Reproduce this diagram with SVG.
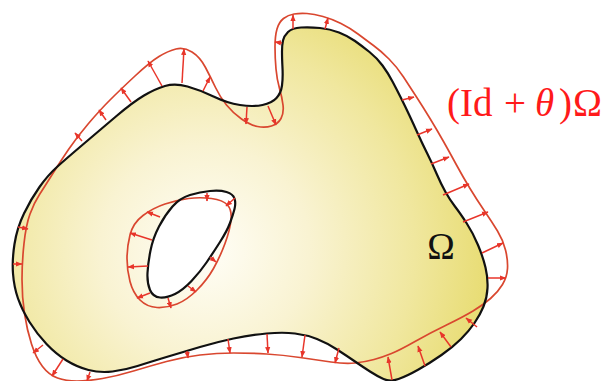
<svg xmlns="http://www.w3.org/2000/svg" width="608" height="381" viewBox="0 0 608 381">
<defs>
<radialGradient id="fillGrad" gradientUnits="userSpaceOnUse" cx="205" cy="250" r="300">
<stop offset="0" stop-color="#fffef8"/>
<stop offset="0.35" stop-color="#f9f3d2"/>
<stop offset="0.7" stop-color="#f0e79e"/>
<stop offset="1" stop-color="#e6da6a"/>
</radialGradient>
<marker id="ah" markerUnits="userSpaceOnUse" markerWidth="7" markerHeight="6" refX="6" refY="3" orient="auto">
<path d="M0,0.4 L6.5,3 L0,5.6 z" fill="#e8352a"/>
</marker>
</defs>
<style>
.black{fill:none;stroke:#111;stroke-width:2.2;stroke-linejoin:round}
.red{fill:none;stroke:#d9472f;stroke-width:1.7;stroke-linejoin:round}
.arr{stroke:#e8352a;stroke-width:1.5;marker-end:url(#ah)}
.lbl{font-family:"Liberation Serif","DejaVu Serif",serif}
</style>
<rect width="608" height="381" fill="#ffffff"/>
<g id="omega-fill">
<path fill="url(#fillGrad)" fill-rule="evenodd" d="M283,40.5 Q284,36 288,32 Q292,28 301,27.5 Q310,27 320,28 Q330,29 339,32.5 Q348,36 355,41 Q362,46 369.5,52 Q377,58 382.5,65.5 Q388,73 392.5,81.5 Q397,90 401,98 Q405,106 409,114.5 Q413,123 417.5,133 Q422,143 427,153 Q432,163 436.5,173.5 Q441,184 445.5,192 Q450,200 455,206.5 Q460,213 466.5,223 Q473,233 478,245 Q483,257 485.5,267.5 Q488,278 487.5,288 Q487,298 483.5,306.5 Q480,315 474.5,323 Q469,331 461,339 Q453,347 441.5,355 Q430,363 418.5,369.5 Q407,376 398.5,379 Q390,382 383.5,379 Q377,376 370,371.5 Q363,367 355,361.5 Q347,356 337,349.5 Q327,343 317,339 Q307,335 295,333.5 Q283,332 266.5,333.5 Q250,335 233.5,338.5 Q217,342 200,347 Q183,352 166.5,357 Q150,362 137.5,366 Q125,370 112.5,371.5 Q100,373 88.5,370 Q77,367 66.5,360.5 Q56,354 46.5,344 Q37,334 29.5,322 Q22,310 18,298.5 Q14,287 13,273.5 Q12,260 14.5,244 Q17,228 24,213.5 Q31,199 39.5,187 Q48,175 57.5,166.5 Q67,158 83.5,144 Q100,130 116.5,116 Q133,102 144,95.5 Q155,89 165,86 Q175,83 187.5,86.5 Q200,90 213.5,96.5 Q227,103 240,105 Q253,107 262.5,105 Q272,103 276.5,98 Q281,93 282,85.5 Q283,78 282.5,68 Q282,58 282,51.5 Q282,45 283,40.5 Z M172.5,206.5 Q180,198 190,195 Q200,192 210,191 Q220,190 226.5,192 Q233,194 234.5,198.5 Q236,203 234.5,209 Q233,215 230,223 Q227,231 220,242 Q213,253 206.5,262.5 Q200,272 191.5,281 Q183,290 175,294 Q167,298 160,297.5 Q153,297 150,290 Q147,283 147.5,273 Q148,263 150.5,250.5 Q153,238 159,226.5 Q165,215 172.5,206.5 Z"/>
</g>
<g id="deformed">
<path class="red" d="M277,29 Q279,22 283.5,18.5 Q288,15 294,14 Q300,13 307,13.5 Q314,14 323,16.5 Q332,19 341,23.5 Q350,28 358,34 Q366,40 373.5,45.5 Q381,51 389,59 Q397,67 403.5,77 Q410,87 416.5,97 Q423,107 430,118.5 Q437,130 443.5,141.5 Q450,153 456.5,165 Q463,177 470,188.5 Q477,200 484.5,211 Q492,222 497.5,231 Q503,240 505.5,250 Q508,260 507.5,268.5 Q507,277 502.5,284.5 Q498,292 490.5,298.5 Q483,305 473,311 Q463,317 446.5,325 Q430,333 415,341.5 Q400,350 391.5,353.5 Q383,357 374,359.5 Q365,362 355,363 Q345,364 331,362 Q317,360 300,357.5 Q283,355 266.5,354 Q250,353 233.5,353 Q217,353 200,355 Q183,357 166.5,361.5 Q150,366 133.5,371 Q117,376 102.5,378.5 Q88,381 77,381 Q66,381 57.5,378 Q49,375 42.5,366.5 Q36,358 31.5,344 Q27,330 24.5,313.5 Q22,297 22,279.5 Q22,262 24,243.5 Q26,225 30,214 Q34,203 39.5,194.5 Q45,186 52.5,174 Q60,162 68.5,149.5 Q77,137 88.5,123.5 Q100,110 110,100 Q120,90 135,76 Q150,62 159,56.5 Q168,51 176,49 Q184,47 192,52 Q200,57 205.5,67.5 Q211,78 215.5,87.5 Q220,97 226.5,105 Q233,113 241.5,119 Q250,125 257.5,126.5 Q265,128 271.5,126 Q278,124 281,118.5 Q284,113 283,105 Q282,97 279.5,88.5 Q277,80 276,69 Q275,58 275,47 Q275,36 277,29 Z"/>
<path class="red" d="M143,215.5 Q133,223 130,235 Q127,247 127,258.5 Q127,270 130,281.5 Q133,293 140,300 Q147,307 157,307.5 Q167,308 177,304 Q187,300 197,290 Q207,280 213.5,268.5 Q220,257 225,243.5 Q230,230 231,220 Q232,210 227.5,205 Q223,200 211.5,198.5 Q200,197 188.5,198.5 Q177,200 165,204 Q153,208 143,215.5 Z"/>
</g>
<g id="omega-boundary">
<path class="black" d="M283,40.5 Q284,36 288,32 Q292,28 301,27.5 Q310,27 320,28 Q330,29 339,32.5 Q348,36 355,41 Q362,46 369.5,52 Q377,58 382.5,65.5 Q388,73 392.5,81.5 Q397,90 401,98 Q405,106 409,114.5 Q413,123 417.5,133 Q422,143 427,153 Q432,163 436.5,173.5 Q441,184 445.5,192 Q450,200 455,206.5 Q460,213 466.5,223 Q473,233 478,245 Q483,257 485.5,267.5 Q488,278 487.5,288 Q487,298 483.5,306.5 Q480,315 474.5,323 Q469,331 461,339 Q453,347 441.5,355 Q430,363 418.5,369.5 Q407,376 398.5,379 Q390,382 383.5,379 Q377,376 370,371.5 Q363,367 355,361.5 Q347,356 337,349.5 Q327,343 317,339 Q307,335 295,333.5 Q283,332 266.5,333.5 Q250,335 233.5,338.5 Q217,342 200,347 Q183,352 166.5,357 Q150,362 137.5,366 Q125,370 112.5,371.5 Q100,373 88.5,370 Q77,367 66.5,360.5 Q56,354 46.5,344 Q37,334 29.5,322 Q22,310 18,298.5 Q14,287 13,273.5 Q12,260 14.5,244 Q17,228 24,213.5 Q31,199 39.5,187 Q48,175 57.5,166.5 Q67,158 83.5,144 Q100,130 116.5,116 Q133,102 144,95.5 Q155,89 165,86 Q175,83 187.5,86.5 Q200,90 213.5,96.5 Q227,103 240,105 Q253,107 262.5,105 Q272,103 276.5,98 Q281,93 282,85.5 Q283,78 282.5,68 Q282,58 282,51.5 Q282,45 283,40.5 Z"/>
<path class="black" d="M172.5,206.5 Q180,198 190,195 Q200,192 210,191 Q220,190 226.5,192 Q233,194 234.5,198.5 Q236,203 234.5,209 Q233,215 230,223 Q227,231 220,242 Q213,253 206.5,262.5 Q200,272 191.5,281 Q183,290 175,294 Q167,298 160,297.5 Q153,297 150,290 Q147,283 147.5,273 Q148,263 150.5,250.5 Q153,238 159,226.5 Q165,215 172.5,206.5 Z"/>
</g>
<g id="connectors">
<line class="arr" x1="82" y1="141" x2="75" y2="133"/>
<line class="arr" x1="106" y1="120" x2="99" y2="110"/>
<line class="arr" x1="131" y1="102" x2="121" y2="88"/>
<line class="arr" x1="162" y1="86" x2="148" y2="61"/>
<line class="arr" x1="182" y1="83" x2="184" y2="49"/>
<line class="arr" x1="203" y1="91" x2="210" y2="77"/>
<line class="arr" x1="247" y1="107" x2="246" y2="124"/>
<line class="arr" x1="268" y1="106" x2="276" y2="125"/>
<line class="arr" x1="282" y1="43" x2="275" y2="42"/>
<line class="arr" x1="293" y1="29" x2="293" y2="15"/>
<line class="arr" x1="325" y1="29" x2="328" y2="18"/>
<line class="arr" x1="402" y1="100" x2="414" y2="97"/>
<line class="arr" x1="417" y1="135" x2="432" y2="129"/>
<line class="arr" x1="431" y1="164" x2="449" y2="157"/>
<line class="arr" x1="443" y1="195" x2="469" y2="184"/>
<line class="arr" x1="463" y1="222" x2="488" y2="212"/>
<line class="arr" x1="482" y1="253" x2="503" y2="243"/>
<line class="arr" x1="488" y1="278" x2="506" y2="278"/>
<line class="arr" x1="477" y1="327" x2="466" y2="318"/>
<line class="arr" x1="451" y1="347" x2="440" y2="332"/>
<line class="arr" x1="425" y1="366" x2="418" y2="346"/>
<line class="arr" x1="392" y1="380" x2="388" y2="357"/>
<line class="arr" x1="339" y1="348" x2="335" y2="363"/>
<line class="arr" x1="305" y1="335" x2="302" y2="357"/>
<line class="arr" x1="267" y1="334" x2="268" y2="353"/>
<line class="arr" x1="228" y1="339" x2="230" y2="353"/>
<line class="arr" x1="187" y1="351" x2="188" y2="358"/>
<line class="arr" x1="43" y1="345" x2="33" y2="353"/>
<line class="arr" x1="63" y1="359" x2="52" y2="376"/>
<line class="arr" x1="90" y1="372" x2="87" y2="381"/>
<line class="arr" x1="18" y1="227" x2="28" y2="229"/>
<line class="arr" x1="13" y1="264" x2="22" y2="264"/>
<line class="arr" x1="160" y1="217" x2="147" y2="212"/>
<line class="arr" x1="152" y1="240" x2="130" y2="233"/>
<line class="arr" x1="148" y1="266" x2="128" y2="267"/>
<line class="arr" x1="150" y1="293" x2="137" y2="298"/>
<line class="arr" x1="168" y1="298" x2="171" y2="308"/>
<line class="arr" x1="188" y1="286" x2="196" y2="292"/>
<line class="arr" x1="210" y1="257" x2="216" y2="262"/>
<line class="arr" x1="207" y1="193" x2="207" y2="201"/>
<line class="arr" x1="235" y1="198" x2="226" y2="206"/>
</g>
<g id="labels">
<text class="lbl" fill="#ff1a1a" font-size="39" y="116"><tspan x="447">(</tspan><tspan x="460">Id</tspan><tspan x="504">+</tspan><tspan x="535" font-style="italic">θ</tspan><tspan x="559">)</tspan><tspan x="573">Ω</tspan></text>
<text class="lbl" fill="#111" font-size="37" x="441" y="259" text-anchor="middle">Ω</text>
</g>
</svg>
